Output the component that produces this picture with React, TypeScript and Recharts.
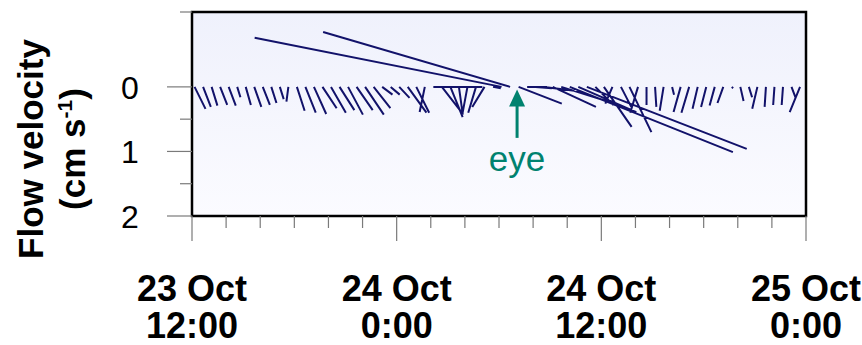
import React from "react";
import {
  ComposedChart,
  Line,
  XAxis,
  YAxis,
  ReferenceArea,
  ReferenceLine,
  ReferenceDot,
} from "recharts";

// hours after 23 Oct 12:00, one record every half hour
const STICK_TIMES = [
  0.15, 0.65, 1.15, 1.65, 2.15, 2.65, 3.15, 3.65, 4.15, 4.65,
  5.15, 5.65, 6.15, 6.65, 7.15, 7.65, 8.15, 8.65, 9.15, 9.65,
  10.15, 10.65, 11.15, 11.65, 12.15, 12.65, 13.15, 13.65, 14.15, 14.65,
  15.15, 15.65, 16.15, 16.65, 17.15, 17.65, 18.15, 18.65, 19.15, 19.65,
  20.15, 20.65, 21.15, 21.65, 22.15, 22.65, 23.15, 23.65, 24.15, 24.65,
  25.15, 25.65, 26.15, 26.65, 27.15, 27.65, 28.15, 28.65, 29.15, 29.65,
  30.15, 30.65, 31.15, 31.65, 32.15, 32.65, 33.15, 33.65, 34.15, 34.65,
  35.15, 35.65,
];

// east component, cm/s
const U_VEL = [
  0.17, 0.12, 0.09, 0.11, 0.11, 0.05, 0.08, 0.11, 0.11, 0.08,
  0.06, -0.03, 0.12, 0.16, 0.19, 0.22, 0.23, 0.23, 0.23, 0.25,
  0.29, 0.26, 0.16, 0.14, 0.16, 0.29, 0.2, -0.08, 0.76, 0.31,
  0.19, 0.06, -0.08, -0.12, -0.19, 0.12, -3.83, -2.9, 0.67, 0.31,
  0.25, 0.47, 0.67, 0.9, 2.53, 0.9, 2.48, 0.28, 0.43, -0.11,
  0.16, 0.34, -0.12, 0.0, 0.02, -0.06, 0.03, -0.11, -0.12, -0.08,
  -0.08, -0.08, -0.09, 0.02, 0.05, 0.05, -0.08, -0.02, -0.02, -0.02,
  0.06, -0.16,
];

// north component, cm/s
const V_VEL = [
  -0.34, -0.31, -0.29, -0.28, -0.29, -0.16, -0.28, -0.31, -0.28, -0.25,
  -0.19, -0.23, -0.37, -0.4, -0.42, -0.33, -0.4, -0.36, -0.43, -0.36,
  -0.43, -0.33, -0.12, -0.12, -0.17, -0.4, -0.4, -0.39, 0.0, -0.4,
  -0.47, -0.43, -0.43, -0.4, -0.31, -0.02, 0.76, 0.85, -0.26, 0.0,
  -0.02, -0.06, -0.31, -0.28, -1.01, -0.39, -0.96, -0.28, -0.62, -0.26,
  -0.31, -0.7, -0.4, -0.28, -0.31, -0.37, -0.12, -0.39, -0.4, -0.34,
  -0.31, -0.29, -0.25, -0.02, -0.22, -0.16, -0.34, -0.31, -0.28, -0.28,
  -0.16, -0.39,
];

const X_TICKS = [0, 2, 4, 6, 8, 10, 12, 14, 16, 18, 20, 22, 24, 26, 28, 30, 32, 34, 36];
const X_LABELS: Record<number, [string, string]> = {
  0: ["23 Oct", "12:00"],
  12: ["24 Oct", "0:00"],
  24: ["24 Oct", "12:00"],
  36: ["25 Oct", "0:00"],
};

const Y_TOP = 1.16;
const Y_TICKS = [Y_TOP, 0, -0.5, -1, -1.5, -2];

const EYE_TIME = 19.06;

// one cm/s drawn as long along time as it is along velocity
const HOURS_PER_CMS = 3.78;

const NAVY = "#12126a";
const TEAL = "#00826f";
const FONT = "'Liberation Sans', Arial, sans-serif";

type Pt = { t: number; v: number | null };

const stickData: Pt[] = STICK_TIMES.flatMap((t, i) => {
  const tEnd = t + U_VEL[i] * HOURS_PER_CMS;
  return [
    { t, v: 0 },
    { t: tEnd, v: V_VEL[i] },
    { t: tEnd, v: null },
  ];
});

function XTick({ x, y, payload }: any) {
  const val = payload.value as number;
  const major = val % 12 === 0;
  const label = X_LABELS[val];
  return (
    <g>
      <line x1={x} x2={x} y1={y} y2={y + (major ? 25 : 12)} stroke="#7a7a7a" strokeWidth={1.2} />
      {label && (
        <text x={x} y={y + 85} textAnchor="middle" fontWeight="bold" fontSize={36} fill="#000" fontFamily={FONT}>
          <tspan x={x}>{label[0]}</tspan>
          <tspan x={x} dy={37}>{label[1]}</tspan>
        </text>
      )}
    </g>
  );
}

function YTick({ x, y, payload }: any) {
  const val = payload.value as number;
  const major = Number.isInteger(val);
  return (
    <g>
      <line x1={x - (major ? 25 : 12)} x2={x} y1={y} y2={y} stroke="#7a7a7a" strokeWidth={1.2} />
      {major && (
        <text x={x - 62} y={y + 12} textAnchor="middle" fontSize={32} fill="#000" fontFamily={FONT}>
          {Math.abs(val)}
        </text>
      )}
    </g>
  );
}

function YTitle() {
  return (
    <g fontFamily={FONT} fontWeight="bold" fontSize={35} fill="#000">
      <text x={43} y={149} textAnchor="middle" transform="rotate(-90, 43, 149)">
        Flow velocity
      </text>
      <text x={85} y={149} textAnchor="middle" transform="rotate(-90, 85, 149)">
        (cm s
        <tspan dy={-13} fontSize={21}>-1</tspan>
        <tspan dy={13}>)</tspan>
      </text>
    </g>
  );
}

function ArrowHead({ cx, cy }: any) {
  return <polygon points={`${cx},${cy} ${cx - 8},${cy + 17} ${cx + 8},${cy + 17}`} fill={TEAL} />;
}

function EyeText({ cx, cy }: any) {
  return (
    <text x={cx} y={cy} textAnchor="middle" fontSize={35} fill={TEAL} fontFamily={FONT}>
      eye
    </text>
  );
}

export default function App() {
  return (
    <div style={{ position: "absolute", left: 0, top: 0, width: 862, height: 345, background: "#fff" }}>
      <ComposedChart
        width={862}
        height={345}
        data={stickData}
        margin={{ top: 12, right: 56, bottom: 0, left: 0 }}
      >
        <defs>
          <linearGradient id="plotBg" x1="0" y1="0" x2="0" y2="1">
            <stop offset="0%" stopColor="#eff1fc" />
            <stop offset="100%" stopColor="#fbfbff" />
          </linearGradient>
        </defs>
        <XAxis
          dataKey="t"
          type="number"
          domain={[0, 36]}
          ticks={X_TICKS}
          interval={0}
          allowDataOverflow
          axisLine={false}
          tickLine={false}
          tickSize={0}
          tickMargin={0}
          height={129}
          tick={<XTick />}
        />
        <YAxis
          type="number"
          domain={[-2, Y_TOP]}
          ticks={Y_TICKS}
          interval={0}
          allowDataOverflow
          axisLine={false}
          tickLine={false}
          tickSize={0}
          tickMargin={0}
          width={192}
          tick={<YTick />}
        />
        <ReferenceArea
          x1={0}
          x2={36}
          y1={-2}
          y2={Y_TOP}
          fill="url(#plotBg)"
          fillOpacity={1}
          stroke="#000"
          strokeWidth={2.5}
        />
        <Line
          dataKey="v"
          type="linear"
          stroke={NAVY}
          strokeWidth={2}
          dot={false}
          activeDot={false}
          connectNulls={false}
          isAnimationActive={false}
        />
        <ReferenceLine
          segment={[
            { x: EYE_TIME, y: -0.29 },
            { x: EYE_TIME, y: -0.79 },
          ]}
          stroke={TEAL}
          strokeWidth={3}
        />
        <ReferenceDot x={EYE_TIME} y={-0.04} shape={<ArrowHead />} />
        <ReferenceDot x={EYE_TIME} y={-1.3} shape={<EyeText />} />
        <YTitle />
      </ComposedChart>
    </div>
  );
}
